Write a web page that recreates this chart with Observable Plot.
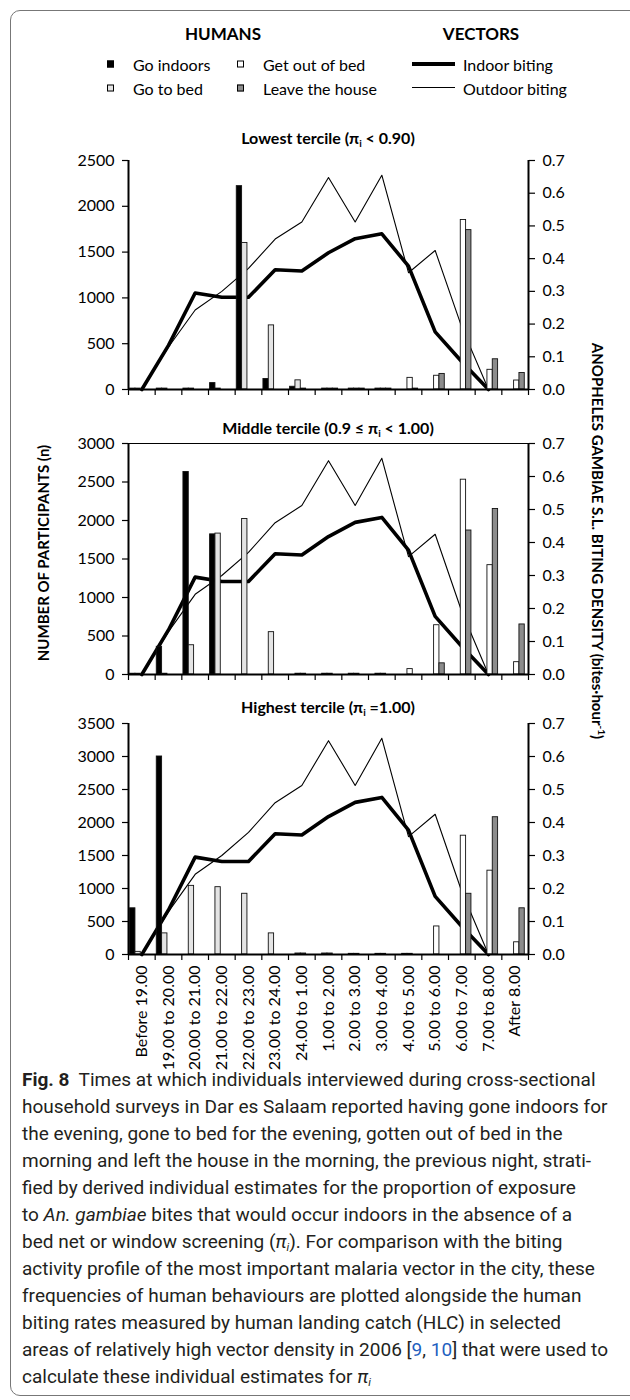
<!DOCTYPE html>
<html>
<head>
<meta charset="utf-8">
<script src="https://cdn.jsdelivr.net/npm/d3@7"></script>
<script src="https://cdn.jsdelivr.net/npm/@observablehq/plot@0.6"></script>
<style>
  html, body { margin: 0; padding: 0; background: #fff; }
  #root { position: relative; width: 630px; height: 1400px; overflow: hidden; font-family: Lato, sans-serif; color: #000; }
  .abs { position: absolute; }
  .frame { position: absolute; left: 10px; top: 10px; width: 660px; height: 1386px; border: 1.5px solid #777; border-radius: 10px; box-sizing: border-box; }
  .hdr { font-weight: 700; font-size: 17px; transform: translate(-50%, -50%); white-space: nowrap; }
  .leg { font-size: 16px; white-space: nowrap; transform: translateY(-50%); }
  .sq { position: absolute; width: 7px; height: 7px; border: 1px solid #000; box-sizing: border-box; transform: translateY(-50%); }
  .ptitle { font-weight: 700; font-size: 16px; transform: translate(-50%, -50%); white-space: nowrap; }
  .ptitle sub { font-size: 10px; vertical-align: -3px; }
  .ytitle { font-weight: 700; font-size: 15px; white-space: nowrap; }
  .caption { position: absolute; left: 22px; top: 1066px; width: 600px; font-family: Roboto, sans-serif; font-size: 19px; line-height: 27px; color: #231f20; white-space: nowrap; }
  .caption .ln { display: block; height: 27px; }
  .caption .ln span.m { display: inline-block; }
  .caption .blue { color: #1f5fbf; }
  .caption sub { font-size: 0.6em; vertical-align: -3px; line-height: 0; }
</style>
</head>
<body>
<div id="root">
  <div class="frame"></div>
</div>
<script>
// ---------------- DATA ----------------
const categories = ["Before 19.00","19.00 to 20.00","20.00 to 21.00","21.00 to 22.00","22.00 to 23.00","23.00 to 24.00","24.00 to 1.00","1.00 to 2.00","2.00 to 3.00","3.00 to 4.00","4.00 to 5.00","5.00 to 6.00","6.00 to 7.00","7.00 to 8.00","After 8.00"];
const seriesNames = ["Go indoors","Go to bed","Get out of bed","Leave the house"];
const seriesColors = ["#000000","#e4e4e4","#ffffff","#8c8c8c"];

// Vector biting density (bites per hour), plotted at categories 0..13
const indoorBiting  = [0, 0.135, 0.295, 0.282, 0.282, 0.366, 0.362, 0.418, 0.461, 0.476, 0.377, 0.176, 0.085, 0];
const outdoorBiting = [0, 0.13, 0.243, 0.30, 0.37, 0.46, 0.512, 0.648, 0.512, 0.655, 0.357, 0.425, 0.19, 0];

// Lowest tercile
const lowGoIndoors  = [10, 10, 10, 70, 2220, 115, 30, 0, 0, 0, 0, 0, 0, 0, 0];
const lowGoToBed    = [10, 10, 10, 10, 1600, 700, 100, 10, 10, 10, 0, 0, 0, 0, 0];
const lowGetOut     = [0, 0, 0, 0, 0, 0, 10, 10, 10, 10, 127, 150, 1850, 215, 98];
const lowLeave      = [0, 0, 0, 0, 0, 0, 0, 10, 10, 10, 10, 170, 1740, 330, 180];
// Middle tercile
const midGoIndoors  = [10, 360, 2630, 1820, 0, 0, 0, 0, 0, 0, 0, 0, 0, 0, 0];
const midGoToBed    = [10, 10, 380, 1830, 2020, 550, 10, 10, 10, 10, 0, 0, 0, 0, 0];
const midGetOut     = [0, 0, 0, 0, 0, 0, 10, 10, 10, 10, 70, 640, 2530, 1420, 160];
const midLeave      = [0, 0, 0, 0, 0, 0, 0, 0, 0, 0, 0, 145, 1870, 2150, 650];
// Highest tercile
const highGoIndoors = [700, 3000, 0, 0, 0, 0, 0, 0, 0, 0, 0, 0, 0, 0, 0];
const highGoToBed   = [40, 320, 1040, 1020, 920, 320, 15, 15, 10, 10, 10, 0, 0, 0, 0];
const highGetOut    = [0, 0, 0, 0, 0, 0, 15, 15, 10, 10, 10, 425, 1800, 1270, 185];
const highLeave     = [0, 0, 0, 0, 0, 0, 0, 0, 0, 0, 0, 0, 920, 2080, 700];

const lowTicks  = [0, 500, 1000, 1500, 2000, 2500];
const midTicks  = [0, 500, 1000, 1500, 2000, 2500, 3000];
const highTicks = [0, 500, 1000, 1500, 2000, 2500, 3000, 3500];
const rightTicks = [0, 0.1, 0.2, 0.3, 0.4, 0.5, 0.6, 0.7];
const rightMax = 0.7;

// ---------------- HELPERS ----------------
const root = document.getElementById("root");
function add(html, cls, left, top, extra) {
  const d = document.createElement("div");
  d.className = "abs " + (cls || "");
  d.style.left = left + "px";
  d.style.top = top + "px";
  if (extra) Object.assign(d.style, extra);
  d.innerHTML = html;
  root.appendChild(d);
  return d;
}

const vectorRows = indoorBiting.map((v, i) => ({i, indoor: v, outdoor: outdoorBiting[i]}));

function panel(series, ticks, showLabels, topLine, plotHeight) {
  const ymax = ticks[ticks.length - 1];
  const k = ymax / rightMax;
  const bars = [];
  series.forEach((arr, s) => arr.forEach((v, i) => bars.push({i, s, v})));
  const barW = 0.2, barOff = 0.06;
  const marks = [
    Plot.line(vectorRows, {x: d => d.i + 0.5, y: d => d.outdoor * k, stroke: "#000", strokeWidth: 1.1}),
    Plot.line(vectorRows, {x: d => d.i + 0.5, y: d => d.indoor * k, stroke: "#000", strokeWidth: 3.6, strokeLinejoin: "round"}),
    Plot.rect(bars.filter(d => d.v > 0), {
      x1: d => d.i + barOff + d.s * barW,
      x2: d => d.i + barOff + (d.s + 1) * barW,
      y1: 0, y2: d => d.v,
      fill: d => seriesColors[d.s],
      stroke: "#111", strokeWidth: 0.9
    }),
    Plot.ruleX([0, 15], {stroke: "#000", strokeWidth: 2}),
    Plot.ruleY([0], {stroke: "#000", strokeWidth: 2}),
    Plot.axisY({ticks, tickSize: 6, tickPadding: 8, tickFormat: d => String(d), label: null, fontSize: 16, strokeWidth: 1.2}),
    Plot.axisY({anchor: "right", ticks: rightTicks.map(t => t * k), tickSize: 6, tickPadding: 8,
      tickFormat: v => (v / k).toFixed(1), label: null, fontSize: 16, strokeWidth: 1.2}),
    Plot.axisX({ticks: d3.range(categories.length + 1), tickSize: 6, tickFormat: () => "", label: null, strokeWidth: 1.2})
  ];
  if (topLine) marks.push(Plot.ruleY([ymax], {stroke: "#000", strokeWidth: 1}));
  if (showLabels) {
    marks.push(Plot.text(categories, {
      x: (d, i) => i + 0.5, y: 0, text: d => d, rotate: -90, textAnchor: "end",
      lineAnchor: "middle", dy: 11, fontSize: 16, fill: "#000"
    }));
  }
  return Plot.plot({
    width: 630,
    height: 10 + plotHeight + (showLabels ? 115 : 12),
    marginLeft: 128, marginRight: 102, marginTop: 10, marginBottom: showLabels ? 115 : 12,
    x: {domain: [0, categories.length], axis: null},
    y: {domain: [0, ymax], axis: null},
    style: {background: "transparent", fontFamily: "Lato, sans-serif", fontSize: "16px", color: "#000", overflow: "visible"},
    marks
  });
}

function place(svg, top) {
  const wrap = document.createElement("div");
  wrap.className = "abs";
  wrap.style.left = "0px";
  wrap.style.top = top + "px";
  wrap.appendChild(svg);
  root.appendChild(wrap);
}

place(panel([lowGoIndoors, lowGoToBed, lowGetOut, lowLeave], lowTicks, false, false, 229), 150);
place(panel([midGoIndoors, midGoToBed, midGetOut, midLeave], midTicks, false, true, 231), 433);
place(panel([highGoIndoors, highGoToBed, highGetOut, highLeave], highTicks, true, false, 231), 713);

// ---------------- TITLES / LEGEND ----------------
add("HUMANS", "hdr", 223, 33);
add("VECTORS", "hdr", 481, 33);

const legendPos = [[110, 64], [110, 87.5], [240, 64], [240, 87.5]];
[0, 1, 2, 3].forEach(s => {
  const [x, y] = legendPos[s];
  add("", "sq", x - 3.5, y, {background: seriesColors[s]});
  add(seriesNames[s], "leg", x + 23, y);
});
add("", "", 412, 62, {width: "43px", height: "4px", background: "#000"});
add("Indoor biting", "leg", 463, 64);
add("", "", 412, 87, {width: "43px", height: "1.3px", background: "#000"});
add("Outdoor biting", "leg", 463, 87.5);

add("Lowest tercile (π<sub>i</sub> &lt; 0.90)", "ptitle", 328, 138);
add("Middle tercile (0.9 ≤ π<sub>i</sub> &lt; 1.00)", "ptitle", 328, 428);
add("Highest tercile (π<sub>i</sub> =1.00)", "ptitle", 328, 707);

add("NUMBER OF PARTICIPANTS (n)", "ytitle", 43, 553, {transform: "translate(-50%, -50%) rotate(-90deg)"});
add("ANOPHELES GAMBIAE S.L. BITING DENSITY (bites·hour<sup style='font-size:10px'>-1</sup>)", "ytitle", 598, 541, {transform: "translate(-50%, -50%) rotate(90deg)"});

// ---------------- CAPTION ----------------
const captionLines = [
  "<b>Fig. 8</b>&nbsp; Times at which individuals interviewed during cross-sectional",
  "household surveys in Dar es Salaam reported having gone indoors for",
  "the evening, gone to bed for the evening, gotten out of bed in the",
  "morning and left the house in the morning, the previous night, strati-",
  "fied by derived individual estimates for the proportion of exposure",
  "to <i>An. gambiae</i> bites that would occur indoors in the absence of a",
  "bed net or window screening (<i>π<sub>i</sub></i>). For comparison with the biting",
  "activity profile of the most important malaria vector in the city, these",
  "frequencies of human behaviours are plotted alongside the human",
  "biting rates measured by human landing catch (HLC) in selected",
  "areas of relatively high vector density in 2006 [<span class='blue'>9</span>, <span class='blue'>10</span>] that were used to",
  "calculate these individual estimates for <i>π<sub>i</sub></i>"
];
const cap = document.createElement("div");
cap.className = "caption";
cap.innerHTML = captionLines.map(l => "<div class='ln'><span class='m'>" + l + "</span></div>").join("");
root.appendChild(cap);
// fit the caption so that the second line spans the same width as in the original (~586px)
const probe = cap.querySelectorAll("span.m")[1];
const w = probe.getBoundingClientRect().width;
if (w > 0) cap.style.fontSize = (19 * 586 / w).toFixed(2) + "px";
</script>
</body>
</html>
